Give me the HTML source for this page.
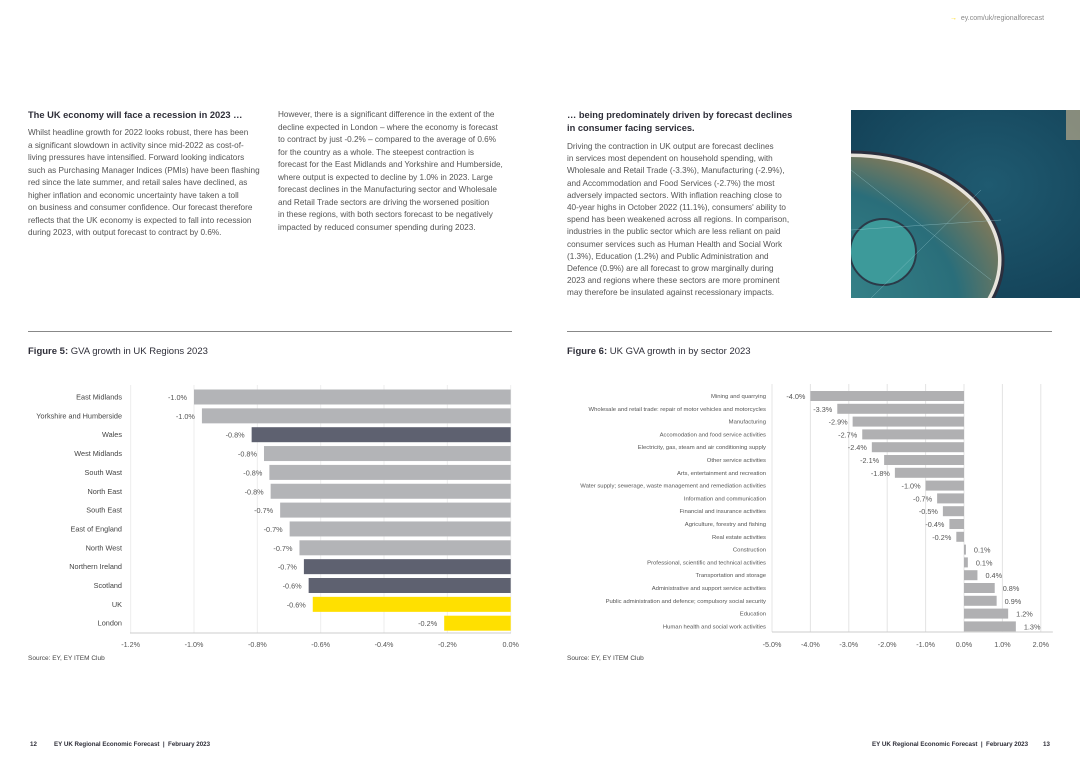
<!DOCTYPE html>
<html><head><meta charset="utf-8">
<style>
body{margin:0;width:1080px;height:764px;background:#fff;position:relative;overflow:hidden;font-family:"Liberation Sans",sans-serif;color:#3a3a3a}
.t{position:absolute;font-size:8.2px;line-height:12.5px;color:#555;white-space:nowrap}
.h{position:absolute;font-size:9.3px;font-weight:bold;color:#2e2e38;white-space:nowrap;line-height:13px}
.rule{position:absolute;height:1px;background:#888}
.fig{position:absolute;font-size:9.5px;color:#2e2e38}
.src{position:absolute;font-size:6.5px;color:#444}
.foot{position:absolute;font-size:6.2px;font-weight:bold;color:#2e2e38;top:741px}
svg text{font-family:"Liberation Sans",sans-serif}
</style></head><body>
<div style="position:absolute;left:950px;top:15px;font-size:7px;color:#888"><span style="color:#ffd700">→</span>&nbsp; ey.com/uk/regionalforecast</div>

<div class="h" style="left:28px;top:109px">The UK economy will face a recession in 2023 …</div>
<div class="t" style="left:28px;top:127px">Whilst headline growth for 2022 looks robust, there has been<br>a significant slowdown in activity since mid-2022 as cost-of-<br>living pressures have intensified. Forward looking indicators<br>such as Purchasing Manager Indices (PMIs) have been flashing<br>red since the late summer, and retail sales have declined, as<br>higher inflation and economic uncertainty have taken a toll<br>on business and consumer confidence. Our forecast therefore<br>reflects that the UK economy is expected to fall into recession<br>during 2023, with output forecast to contract by 0.6%.</div>
<div class="t" style="left:278px;top:109px">However, there is a significant difference in the extent of the<br>decline expected in London – where the economy is forecast<br>to contract by just -0.2% – compared to the average of 0.6%<br>for the country as a whole. The steepest contraction is<br>forecast for the East Midlands and Yorkshire and Humberside,<br>where output is expected to decline by 1.0% in 2023. Large<br>forecast declines in the Manufacturing sector and Wholesale<br>and Retail Trade sectors are driving the worsened position<br>in these regions, with both sectors forecast to be negatively<br>impacted by reduced consumer spending during 2023.</div>

<div class="h" style="left:567px;top:109px">… being predominately driven by forecast declines<br>in consumer facing services.</div>
<div class="t" style="left:567px;top:141px;line-height:12.2px">Driving the contraction in UK output are forecast declines<br>in services most dependent on household spending, with<br>Wholesale and Retail Trade (-3.3%), Manufacturing (-2.9%),<br>and Accommodation and Food Services (-2.7%) the most<br>adversely impacted sectors. With inflation reaching close to<br>40-year highs in October 2022 (11.1%), consumers' ability to<br>spend has been weakened across all regions. In comparison,<br>industries in the public sector which are less reliant on paid<br>consumer services such as Human Health and Social Work<br>(1.3%), Education (1.2%) and Public Administration and<br>Defence (0.9%) are all forecast to grow marginally during<br>2023 and regions where these sectors are more prominent<br>may therefore be insulated against recessionary impacts.</div>

<svg style="position:absolute;left:851px;top:110px" width="229" height="188">
<defs><radialGradient id="sea" cx="0.6" cy="0.4" r="0.8"><stop offset="0" stop-color="#1f5a70"/><stop offset="1" stop-color="#123f55"/></radialGradient>
<radialGradient id="pen" cx="0.3" cy="0.7" r="0.8"><stop offset="0" stop-color="#3a8a8e"/><stop offset="0.7" stop-color="#2a6e7a"/><stop offset="1" stop-color="#8a7a55"/></radialGradient></defs>
<rect width="229" height="188" fill="url(#sea)"/>
<ellipse cx="-1" cy="150" rx="150" ry="105" fill="url(#pen)" stroke="#e8e4dc" stroke-width="4"/>
<ellipse cx="-1" cy="150" rx="153" ry="108" fill="none" stroke="#2b2f3e" stroke-width="3"/>
<circle cx="32" cy="142" r="33" fill="#3d9a9a" stroke="#2b3a48" stroke-width="2"/>
<g stroke="#9fd0d8" stroke-width="0.5" opacity="0.6"><line x1="0" y1="60" x2="140" y2="170"/><line x1="20" y1="188" x2="130" y2="80"/><line x1="0" y1="120" x2="150" y2="110"/></g>
<rect x="215" y="0" width="14" height="30" fill="#b8a98a" opacity="0.7"/>
</svg>

<div class="rule" style="left:28px;top:331px;width:484px"></div>
<div class="rule" style="left:567px;top:331px;width:485px"></div>
<div class="fig" style="left:28px;top:346px"><b>Figure 5:</b> GVA growth in UK Regions 2023</div>
<div class="fig" style="left:567px;top:346px"><b>Figure 6:</b> UK GVA growth in by sector 2023</div>

<svg id="c1" style="position:absolute;left:0;top:380px" width="540" height="280"></svg>
<svg id="c2" style="position:absolute;left:540px;top:380px" width="540" height="280"></svg>

<div class="src" style="left:28px;top:655px">Source: EY, EY ITEM Club</div>
<div class="src" style="left:567px;top:655px">Source: EY, EY ITEM Club</div>

<div class="foot" style="left:30px">12</div>
<div class="foot" style="left:54px">EY UK Regional Economic Forecast &nbsp;|&nbsp; February 2023</div>
<div class="foot" style="left:872px">EY UK Regional Economic Forecast &nbsp;|&nbsp; February 2023</div>
<div class="foot" style="left:1043px">13</div>

<script>
const regions=["East Midlands","Yorkshire and Humberside","Wales","West Midlands","South Wast","North East","South East","East of England","North West","Northern Ireland","Scotland","UK","London"];
const regionValues=[-1.0,-0.975,-0.818,-0.779,-0.762,-0.758,-0.728,-0.698,-0.667,-0.653,-0.638,-0.625,-0.21];
const regionLabels=["-1.0%","-1.0%","-0.8%","-0.8%","-0.8%","-0.8%","-0.7%","-0.7%","-0.7%","-0.7%","-0.6%","-0.6%","-0.2%"];
const regionKinds=["g","g","d","g","g","g","g","g","g","d","d","y","y"];
const regionTicks=[-1.2,-1.0,-0.8,-0.6,-0.4,-0.2,0];

const sectors=["Mining and quarrying","Wholesale and retail trade: repair of motor vehicles and motorcycles","Manufacturing","Accomodation and food service activities","Electricity, gas, steam and air conditioning supply","Other service activities","Arts, entertainment and recreation","Water supply; sewerage, waste management and remediation activities","Information and communication","Financial and insurance activities","Agriculture, forestry and fishing","Real estate activities","Construction","Professional, scientific and technical activities","Transportation and storage","Administrative and support service activities","Public administration and defence; compulsory social security","Education","Human health and social work activities"];
const sectorValues=[-4.0,-3.3,-2.9,-2.65,-2.4,-2.08,-1.8,-1.0,-0.7,-0.55,-0.38,-0.2,0.05,0.1,0.35,0.8,0.85,1.15,1.35];
const sectorLabels=["-4.0%","-3.3%","-2.9%","-2.7%","-2.4%","-2.1%","-1.8%","-1.0%","-0.7%","-0.5%","-0.4%","-0.2%","0.1%","0.1%","0.4%","0.8%","0.9%","1.2%","1.3%"];
const sectorTicks=[-5,-4,-3,-2,-1,0,1,2];

const NS="http://www.w3.org/2000/svg";
function mk(svg,tag,a,txt){const e=document.createElementNS(NS,tag);for(const k in a)e.setAttribute(k,a[k]);if(txt!==undefined)e.textContent=txt;svg.appendChild(e);return e;}
function fmt(v){return v.toFixed(1)+"%";}

(function(){
const svg=document.getElementById('c1');
const x=v=>510.7+v*316.7;
const y=i=>17+i*18.85;
const colors={g:"#b3b4b7",d:"#5e6170",y:"#ffe000"};
regionTicks.forEach(t=>{
 const l=mk(svg,'line',{x1:x(t),x2:x(t),y1:5,y2:253,stroke:"#eee","stroke-width":1});
 
 
 const tx=mk(svg,'text',{x:x(t),y:267,"font-size":7.2,fill:"#555","text-anchor":"middle"},fmt(t));
 
 
});
const ax=mk(svg,'line',{x1:130,x2:511,y1:253,y2:253,stroke:"#ccc"});


regions.forEach((r,i)=>{
 const v=regionValues[i];
 const b=mk(svg,'rect',{x:x(v),y:y(i)-7.5,width:x(0)-x(v),height:15,fill:colors[regionKinds[i]]});
 
 
 const c=mk(svg,'text',{x:122,y:y(i)+2.5,"font-size":7.3,fill:"#444","text-anchor":"end"},r);
 
 
 const vl=mk(svg,'text',{x:x(v)-7,y:y(i)+3,"font-size":7.3,fill:"#555","text-anchor":"end"},regionLabels[i]);
 
 
});
})();

(function(){
const svg=document.getElementById('c2');
const x=v=>424+v*38.4;
const y=i=>16+i*12.8;
sectorTicks.forEach(t=>{
 const l=mk(svg,'line',{x1:x(t),x2:x(t),y1:4,y2:252,stroke:"#e4e4e4","stroke-width":1});
 
 
 const tx=mk(svg,'text',{x:x(t),y:267,"font-size":7.2,fill:"#555","text-anchor":"middle"},fmt(t));
 
 
});
const ax=mk(svg,'line',{x1:x(-5),x2:x(2)+12,y1:252,y2:252,stroke:"#ccc"});


sectors.forEach((s,i)=>{
 const v=sectorValues[i];
 const x0=Math.min(x(0),x(v)),w=Math.abs(x(v)-x(0));
 const b=mk(svg,'rect',{x:x0,y:y(i)-5,width:Math.max(w,1),height:10,fill:"#b0b0b2"});
 
 
 const c=mk(svg,'text',{x:226,y:y(i)+2,"font-size":5.9,fill:"#555","text-anchor":"end"},s);
 
 
 const neg=v<0;
 const vl=mk(svg,'text',{x:neg?x(v)-5:x(v)+8,y:y(i)+3,"font-size":7.3,fill:"#555","text-anchor":neg?"end":"start"},sectorLabels[i]);
 
 
});
})();
</script>
</body></html>
